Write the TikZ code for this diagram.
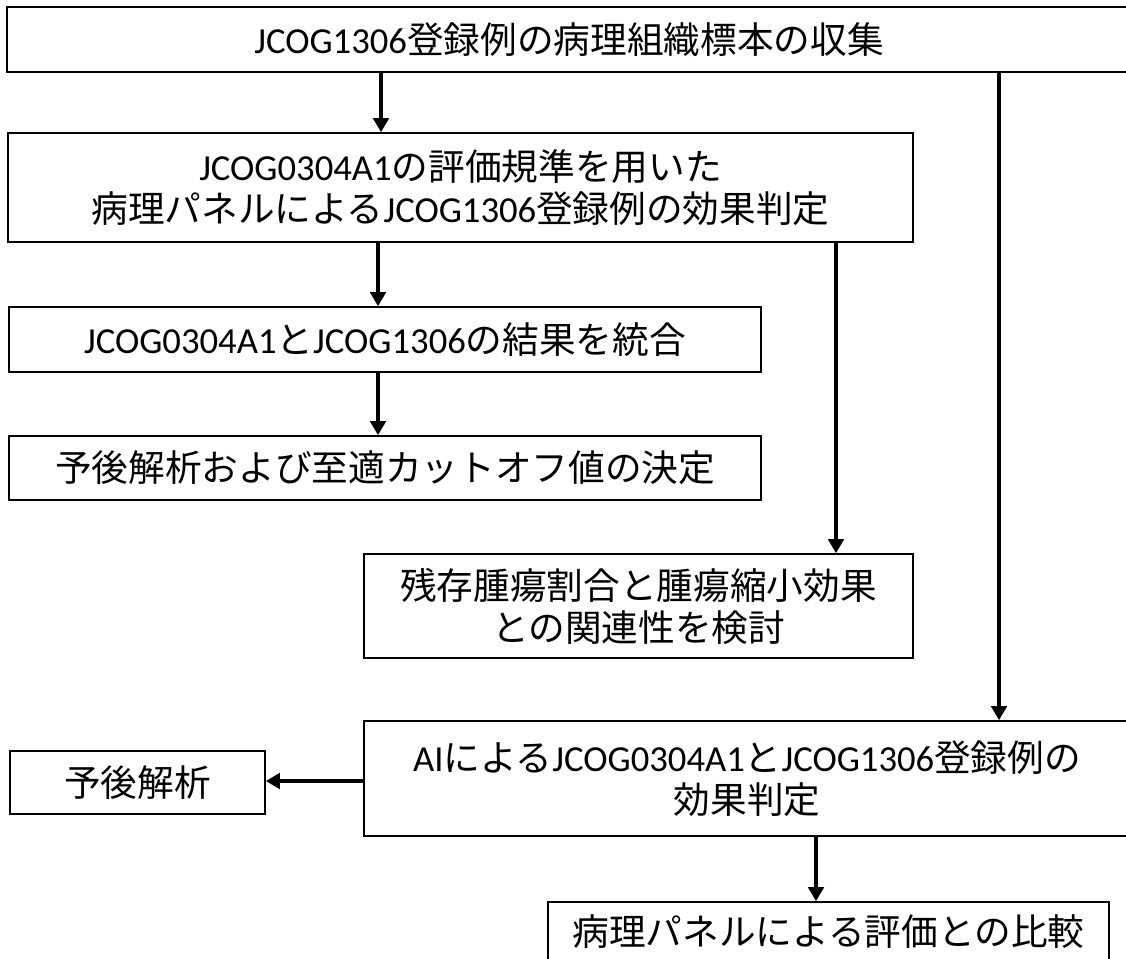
\documentclass[tikz,border=0pt]{standalone}
\usepackage{fontspec}
\setmainfont{Noto Sans CJK JP}
\newfontfamily\latinfont{Carlito}
\newcommand{\eng}[1]{{\latinfont #1}}
\usetikzlibrary{arrows.meta,positioning}
\tikzset{
     box/.style = {draw, line width=1.2pt, inner sep=0pt, align=center,
                   font=\fontsize{27.5}{31.5}\selectfont},
     flow/.style = {black, line width=3.4pt, -{Triangle[width=11.5pt,length=10.5pt]}},
    }

\begin{document}
\begin{tikzpicture}[x=0.75pt,y=-0.75pt]
        \useasboundingbox (0,0) rectangle (1126,958);
        \clip (0,0) rectangle (1126,958);

        \node [box, minimum width=1124*0.75pt, minimum height=65*0.75pt] (collect) at (569,39.5)
            {\eng{JCOG1306}登録例の病理組織標本の収集};
        \node [box, minimum width=905*0.75pt, minimum height=109*0.75pt] (panel) at (460.5,187.5)
            {\eng{JCOG0304A1}の評価規準を用いた\\病理パネルによる\eng{JCOG1306}登録例の効果判定};
        \node [box, minimum width=752*0.75pt, minimum height=65*0.75pt] (merge) at (385,339.5)
            {\eng{JCOG0304A1}と\eng{JCOG1306}の結果を統合};
        \node [box, minimum width=752*0.75pt, minimum height=64*0.75pt] (cutoff) at (385,468)
            {予後解析および至適カットオフ値の決定};
        \node [box, minimum width=549*0.75pt, minimum height=104*0.75pt] (relate) at (638.5,606)
            {残存腫瘍割合と腫瘍縮小効果\\との関連性を検討};
        \node [box, minimum width=766*0.75pt, minimum height=115*0.75pt] (ai) at (747,778.5)
            {\eng{AI}による\eng{JCOG0304A1}と\eng{JCOG1306}登録例の\\効果判定};
        \node [box, minimum width=255*0.75pt, minimum height=63*0.75pt] (prog) at (137.5,782.5)
            {予後解析};
        \node [box, minimum width=561*0.75pt, minimum height=60*0.75pt] (compare) at (828.5,932)
            {病理パネルによる評価との比較};

        \draw [flow] (collect.south -| 381,0) -- (panel.north -| 381,0);
        \draw [flow] (collect.south -| 999,0) -- (ai.north -| 999,0);
        \draw [flow] (panel.south -| 378,0) -- (merge.north -| 378,0);
        \draw [flow] (panel.south -| 836,0) -- (relate.north -| 836,0);
        \draw [flow] (merge.south -| 378,0) -- (cutoff.north -| 378,0);
        \draw [flow] (ai.west |- 0,781) -- (prog.east |- 0,781);
        \draw [flow] (ai.south -| 816,0) -- (compare.north -| 816,0);
    \end{tikzpicture}
\end{document}
